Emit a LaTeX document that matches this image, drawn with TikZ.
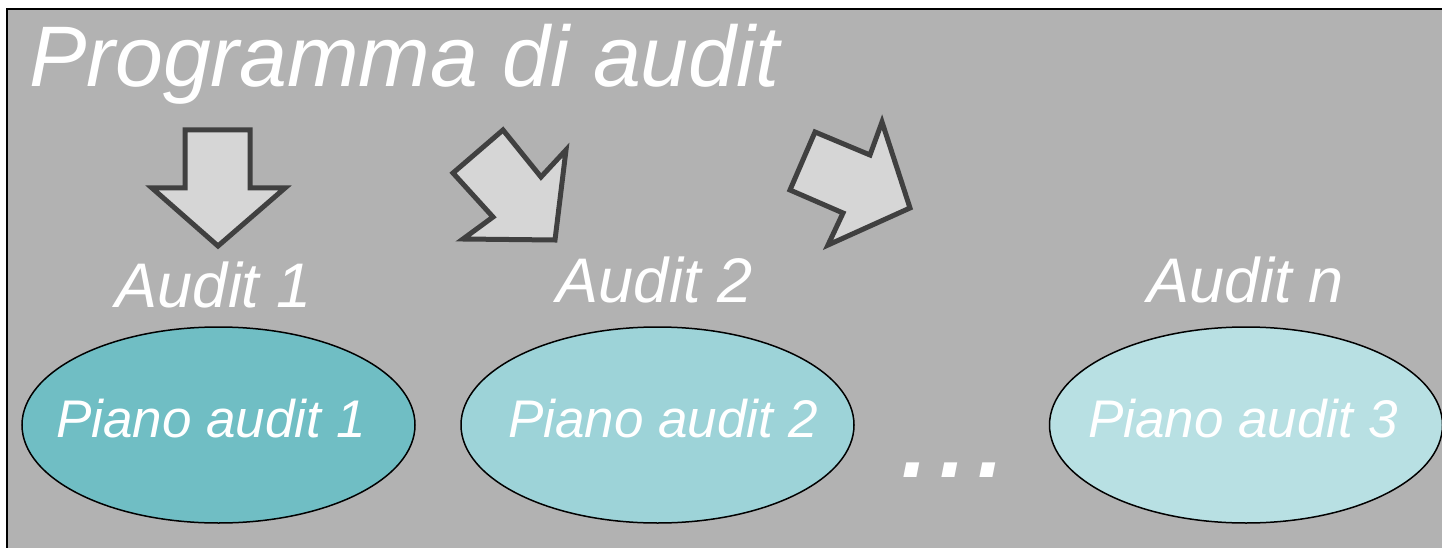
\documentclass[tikz,border=0pt]{standalone}
\usepackage{fontspec}
\setmainfont{Liberation Sans}
\usetikzlibrary{shapes.geometric}
\definecolor{bggray}{HTML}{B2B2B2}
\definecolor{arrowfill}{HTML}{D6D6D6}
\definecolor{arrowline}{HTML}{404040}
\definecolor{ellA}{HTML}{70BEC4}
\definecolor{ellB}{HTML}{9DD3D8}
\definecolor{ellC}{HTML}{B8E0E3}
\tikzset{
  blockarrow/.style={fill=arrowfill, draw=arrowline, line width=5pt, line join=miter},
  plan/.style={ellipse, draw=black, line width=1.5pt, minimum width=393pt, minimum height=196pt, inner sep=0pt, outer sep=0pt},
  plantext/.style={text=white, font=\fontsize{53}{60}\selectfont\itshape, inner sep=0pt, anchor=base},
  auditlabel/.style={text=white, font=\fontsize{63}{70}\selectfont\itshape, inner sep=0pt, anchor=base},
}
\begin{document}
\begin{tikzpicture}[x=1pt,y=-1pt]
\useasboundingbox (0,0) rectangle (1442,548);
\fill[white] (0,0) rectangle (1442,548);
\draw[fill=bggray, draw=black, line width=2pt] (7,9) rectangle (1460,570);
\node[text=white, font=\fontsize{86}{90}\selectfont\itshape, inner sep=0pt, anchor=base west] (title) at (29,87) {Programma di audit};
% block arrows
\draw[blockarrow] (185,130) -- (250,130) -- (250,188) -- (285,188) -- (218,246) -- (152,188) -- (185,188) -- cycle;
\draw[blockarrow] (503,130) -- (453,173) -- (493,217) -- (463,239) -- (555,240) -- (566,150) -- (541,177) -- cycle;
\draw[blockarrow] (815,132) -- (790,190) -- (843,213) -- (828,245) -- (910,208) -- (882,122) -- (870,155) -- cycle;
% labels
\node[auditlabel] (a1) at (214,307) {Audit 1};
\node[auditlabel] (a2) at (655,302) {Audit 2};
\node[auditlabel] (an) at (1246,302) {Audit n};
% plans
\node[plan, fill=ellA] (p1) at (218.5,425) {};
\node[plan, fill=ellB] (p2) at (657.5,425) {};
\node[plan, fill=ellC] (p3) at (1246,425) {};
\node[plantext] (t1) at (211,437) {Piano audit 1};
\node[plantext] (t2) at (663,437) {Piano audit 2};
\node[plantext] (t3) at (1243,437) {Piano audit 3};
\node[text=white, font=\fontsize{137}{140}\selectfont\itshape, inner sep=0pt, anchor=base west] (dots) at (898,477) {...};
\end{tikzpicture}
\end{document}
